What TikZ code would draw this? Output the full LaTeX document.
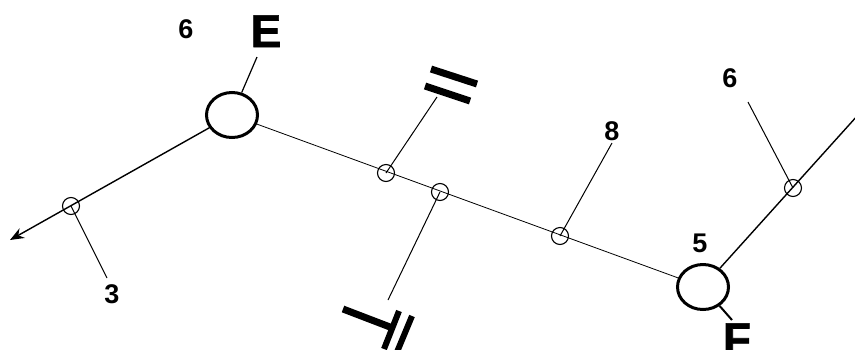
\documentclass[tikz,border=0pt]{standalone}
\usepackage{fontspec}
\setmainfont{Liberation Sans}
\newfontfamily\heavyfont[FakeBold=1.5]{Liberation Sans Bold}
\usetikzlibrary{arrows.meta,shapes.geometric}

\begin{document}
\begin{tikzpicture}[x=1pt, y=-1pt, >={Stealth[length=14pt,width=11pt]},
  bigjoint/.style={ellipse, draw, line width=3pt, minimum width=51pt, minimum height=45pt, inner sep=0pt},
  joint/.style={circle, draw, line width=1.1pt, minimum size=17pt, inner sep=0pt},
  num/.style={anchor=base, inner sep=0pt, font=\fontsize{27}{27}\selectfont\bfseries},
  letter/.style={anchor=base, inner sep=0pt, font=\fontsize{46}{46}\heavyfont},
  bar/.style={line width=7pt}]
\useasboundingbox (0,0) rectangle (855,349);

% main joints
\node[bigjoint] (E) at (232,115) {};
\node[bigjoint] (F) at (703,287) {};

% small joints
\node[joint] (j1) at (71,206) {};
\node[joint] (j2) at (386,173) {};
\node[joint] (j3) at (440,192) {};
\node[joint] (j4) at (560,236) {};
\node[joint] (j5) at (793,188) {};

% free ends
\coordinate (tipA) at (10,240);
\coordinate (tipE) at (257,57);
\coordinate (tipF) at (732,320);
\coordinate (tipR) at (858,115);
\coordinate (t1) at (107,278);
\coordinate (t2) at (437,97);
\coordinate (t3) at (388,300);
\coordinate (t4) at (612,143);
\coordinate (t5) at (748,102);

% members
\draw[line width=1.4pt,->] (E) -- (tipA);
\draw[line width=0.8pt] (E) -- (F);
\draw[line width=1.4pt] (F) -- (tipR);
\draw[line width=1.2pt] (E) -- (tipE);
\draw[line width=2pt] (F) -- (tipF);

% branches
\draw[line width=1pt] (j1.center) -- (t1);
\draw[line width=1pt] (j2.center) -- (t2);
\draw[line width=1pt] (j3.center) -- (t3);
\draw[line width=1pt] (j4.center) -- (t4);
\draw[line width=1pt] (j5.center) -- (t5);

% labels
\node[num] (n6a) at (186,38) {6};
\node[letter] (lE) at (266,47) {E};
\node[num] (n8) at (612,140) {8};
\node[num] (n6b) at (730,87) {6};
\node[num] (n5) at (700,252) {5};
\node[num] (n3) at (112,303) {3};
\node[letter] (lF) at (737,355) {F};

% symbols
\draw[bar] (431,69) -- (477,84);
\draw[bar] (425,86) -- (470,101);
\draw[bar] (343,309) -- (390,327);
\draw[line width=6pt] (399,311) -- (384,349);
\draw[line width=6pt] (412,316) -- (397,352);
\end{tikzpicture}
\end{document}
